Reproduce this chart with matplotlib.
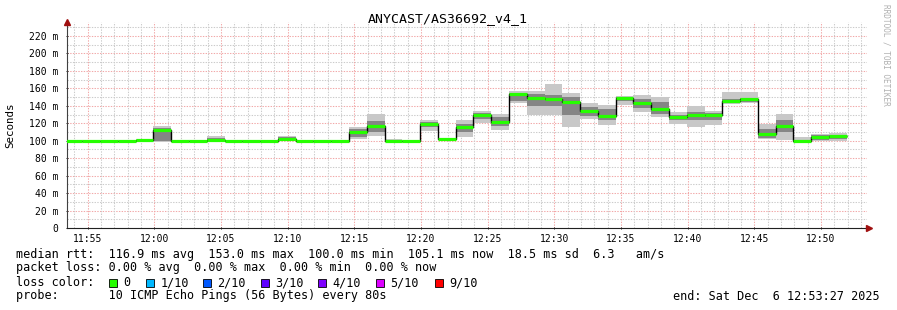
import matplotlib
matplotlib.use("Agg")
import matplotlib.pyplot as plt
import numpy as np

# ---------------- data ----------------
title = "ANYCAST/AS36692_v4_1"
start_time = "11:53:16"      # start of first 80 s step
step_seconds = 80
view_start = "11:53:27"
view_end = "12:53:27"

median = [100, 100, 100, 100, 100.5, 112, 100, 100, 101, 100, 100, 100, 101.5, 100, 100,
          100, 110, 116.5, 100, 100, 119, 102, 116, 130, 121.5, 153.5, 148.5, 147.5, 144,
          134.5, 128.5, 148.5, 143, 136.5, 127, 130, 130, 146, 147.5, 108, 117, 100, 104, 105]
smoke_hi = [100.5, 100.5, 100.5, 100.5, 102, 117, 100.5, 100.5, 105.5, 100.5, 100.5, 100.5,
            105, 100.5, 100.5, 100.5, 115.5, 130.5, 101.5, 100.5, 123.5, 103, 123.7, 134.4,
            130.3, 156.6, 156.6, 165, 155, 143, 141, 151.6, 152.4, 149.7, 133, 139.8, 134,
            155.8, 155.8, 118.8, 130.6, 104, 107.7, 109.2]
smoke_lo = [99.5, 99.5, 99.5, 99.5, 99.5, 99, 99.5, 99.5, 99.5, 99.5, 99.5, 99.5, 99.5, 99.5,
            99.5, 99.5, 101.6, 105.8, 99.5, 99.5, 111.5, 101, 104.7, 120, 112.3, 142.9, 129.5,
            129.5, 116, 124.5, 118, 141, 133.3, 126.8, 119.2, 116.1, 118, 141.7, 142.9, 101.6,
            100.8, 99.5, 100, 100]
inner_hi = [100, 100, 100, 100, 101, 114, 100, 100, 103, 100, 100, 100, 104, 100, 100, 100,
            113, 123, 100, 100, 121, 102.5, 119, 132, 127, 155, 154, 152, 150, 139, 136, 150,
            148, 144, 130, 133, 132, 148, 149, 113, 124, 101, 106, 107]
inner_lo = [100, 100, 100, 100, 100, 100, 100, 100, 100, 100, 100, 100, 100, 100, 100, 100,
            104, 110, 100, 100, 116, 101, 110, 125, 117, 146, 140, 140, 130, 128, 124, 145,
            138, 131, 124, 124, 124, 144, 144, 103, 110, 100, 101, 102]

yticks = [0, 20, 40, 60, 80, 100, 120, 140, 160, 180, 200, 220]
ytick_labels = ["0", "20 m", "40 m", "60 m", "80 m", "100 m", "120 m", "140 m", "160 m",
                "180 m", "200 m", "220 m"]
xtick_labels = ["11:55", "12:00", "12:05", "12:10", "12:15", "12:20", "12:25", "12:30",
                "12:35", "12:40", "12:45", "12:50"]

legend_line1 = "median rtt:  116.9 ms avg  153.0 ms max  100.0 ms min  105.1 ms now  18.5 ms sd  6.3   am/s"
legend_line2 = "packet loss: 0.00 % avg  0.00 % max  0.00 % min  0.00 % now"
legend_line4 = "probe:       10 ICMP Echo Pings (56 Bytes) every 80s"
end_text = "end: Sat Dec  6 12:53:27 2025"
loss_labels = ["0", "1/10", "2/10", "3/10", "4/10", "5/10", "9/10"]
loss_colors = ["#26ff00", "#00b8ff", "#0059ff", "#5e00ff", "#7e00ff", "#dd00ff", "#ff0000"]


def to_min(s):
    h, m, sec = (int(v) for v in s.split(":"))
    return h * 60 + m + sec / 60.0


# ---------------- figure ----------------
W, H = 897, 310
fig = plt.figure(figsize=(W / 100, H / 100), dpi=100)
fig.patch.set_facecolor("white")
mono = "DejaVu Sans Mono"

L, R, T, B = 67, 867, 22, 228
ax = fig.add_axes([L / W, 1 - B / H, (R - L) / W, (B - T) / H])
ax.set_facecolor("white")

x0 = to_min(start_time)
n = len(median)
edges = x0 + np.arange(n + 1) * step_seconds / 60.0

xs, xe = to_min(view_start), to_min(view_end)
ax.set_xlim(xs, xe)
ax.set_ylim(0, 236)

# grid
major_c = "#f2a8a8"
minor_c = "#cbcbcb"
for v in np.arange(10, 236, 10):
    c = major_c if v % 20 == 0 else minor_c
    ax.axhline(v, color=c, lw=0.75, ls=(0, (1.3, 1.3)), zorder=0)
xt = [to_min(s + ":00") for s in xtick_labels]
mm = np.arange(np.ceil(xs), xe, 1.0)
for v in mm:
    c = major_c if int(round(v)) % 5 == 0 else minor_c
    ax.axvline(v, color=c, lw=0.75, ls=(0, (1.3, 1.3)), zorder=0)

# smoke
ax.stairs(smoke_hi, edges, baseline=smoke_lo, fill=True, color="#c8c8c8", lw=0, zorder=1)
ax.stairs(inner_hi, edges, baseline=inner_lo, fill=True, color="#858585", lw=0, zorder=2)
# median
ax.stairs(median, edges, baseline=None, color="black", lw=1.0, zorder=3)
ax.hlines(median, edges[:-1], edges[1:], color="#26ff00", lw=2.3, zorder=4)

# axes
for s in ["top", "right"]:
    ax.spines[s].set_visible(False)
ax.spines["left"].set_color("#404040")
ax.spines["bottom"].set_color("#202020")
ax.spines["left"].set_linewidth(0.8)
ax.spines["bottom"].set_linewidth(0.8)
ax.set_yticks(yticks)
ax.set_yticklabels(ytick_labels, fontfamily=mono, fontsize=7)
ax.set_xticks(xt)
ax.set_xticklabels(xtick_labels, fontfamily=mono, fontsize=7)
ax.tick_params(axis="both", length=2, width=0.6, direction="inout", pad=3, colors="black")
ax.tick_params(axis="y", pad=5)
ax.set_ylabel("Seconds", fontfamily=mono, fontsize=7.8, labelpad=10)

# arrows
ax.plot([0], [1], marker="^", color="#a01010", ms=4, transform=ax.transAxes, clip_on=False, zorder=5)
ax.plot([1.003], [0], marker=">", color="#a01010", ms=4, transform=ax.transAxes, clip_on=False, zorder=5)

# title
fig.text(448 / W, 1 - 19 / H, title, ha="center", va="center", fontfamily=mono, fontsize=9.5)
fig.text(886 / W, 1 - 4 / H, "RRDTOOL / TOBI OETIKER", rotation=-90, ha="center", va="top",
         fontfamily=mono, fontsize=5.6, color="#b0b0b0")

# legend text
fs = 8.45
fig.text(16 / W, 1 - 254.5 / H, legend_line1, ha="left", va="center", fontfamily=mono, fontsize=fs)
fig.text(16 / W, 1 - 268 / H, legend_line2, ha="left", va="center", fontfamily=mono, fontsize=fs)
fig.text(16 / W, 1 - 282.5 / H, "loss color:", ha="left", va="center", fontfamily=mono, fontsize=fs)
fig.text(16 / W, 1 - 296 / H, legend_line4, ha="left", va="center", fontfamily=mono, fontsize=fs)
fig.text(880 / W, 1 - 296 / H, end_text, ha="right", va="center", fontfamily=mono, fontsize=fs)

sq_x = [108.7, 145.7, 202.7, 261, 318, 376, 435]
for px, lab, col in zip(sq_x, loss_labels, loss_colors):
    fig.patches.append(plt.Rectangle((px / W, 1 - 286.5 / H), 8 / W, 8 / H,
                                     transform=fig.transFigure, facecolor=col,
                                     edgecolor="black", lw=0.6))
    fig.text((px + 14.5) / W, 1 - 282.5 / H, lab, ha="left", va="center", fontfamily=mono, fontsize=fs)

fig.savefig("out.png", dpi=100, facecolor="white")
